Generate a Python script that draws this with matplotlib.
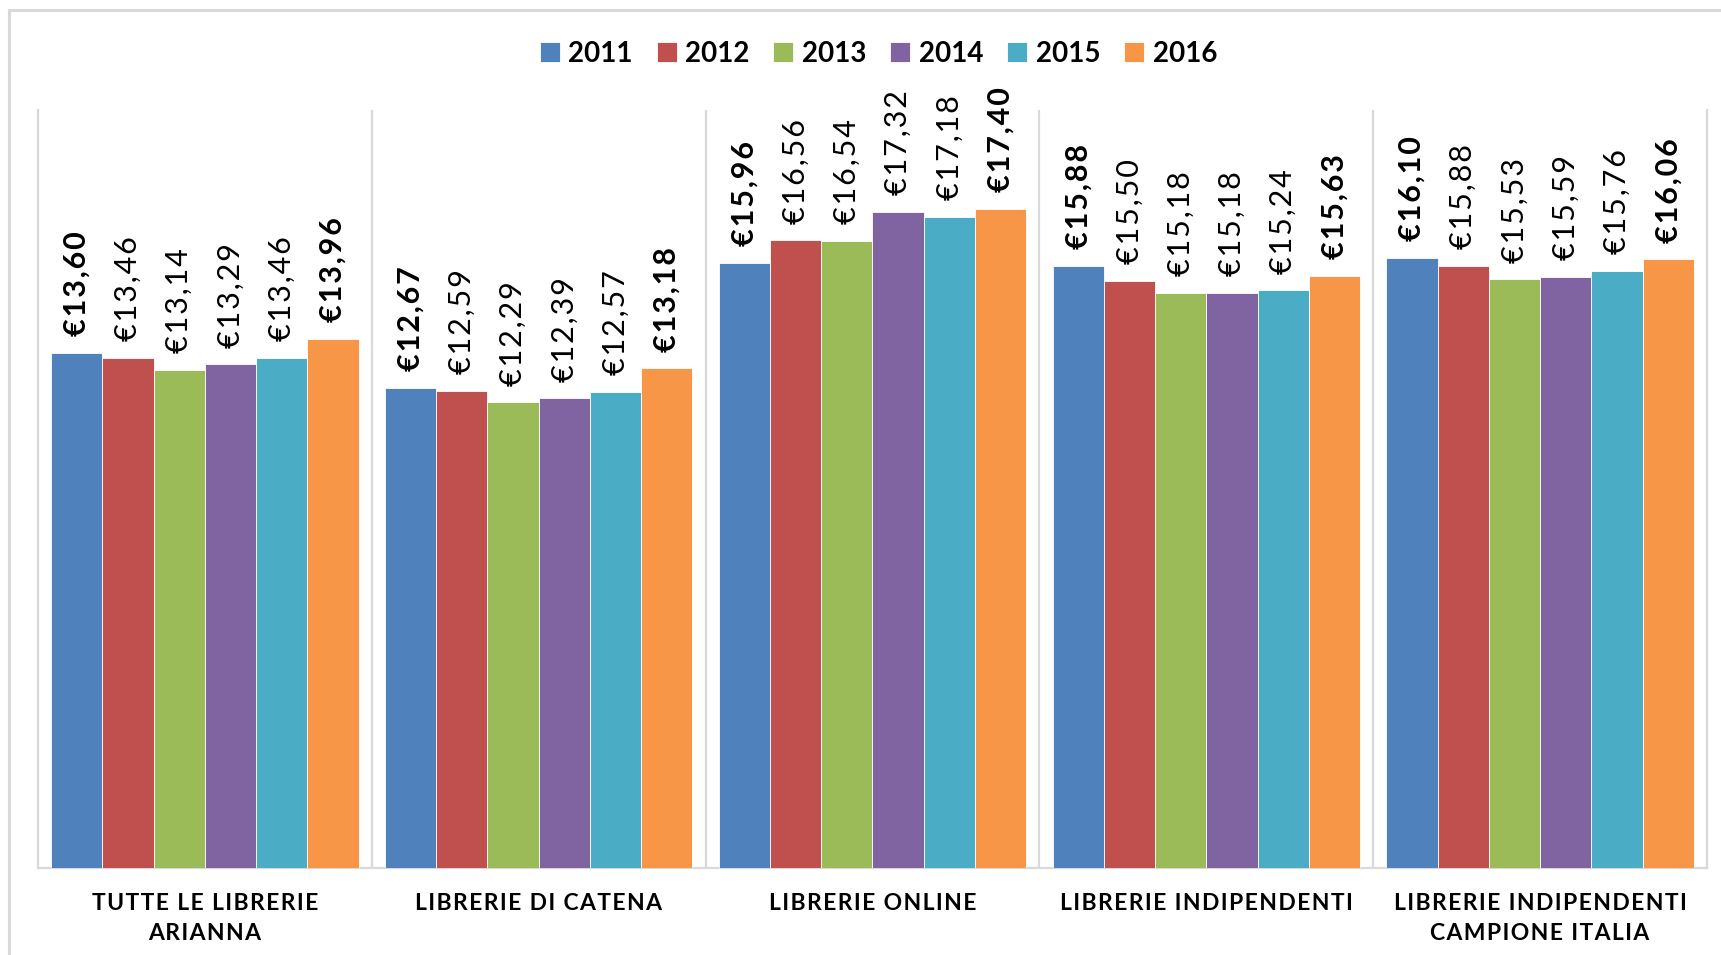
import numpy as np
import matplotlib
matplotlib.use("Agg")
import matplotlib.pyplot as plt
from matplotlib.patches import Rectangle

# Data
categories = ["TUTTE LE LIBRERIE\nARIANNA", "LIBRERIE DI CATENA", "LIBRERIE ONLINE",
              "LIBRERIE INDIPENDENTI", "LIBRERIE INDIPENDENTI\nCAMPIONE ITALIA"]
years = ["2011", "2012", "2013", "2014", "2015", "2016"]
v2011 = [13.60, 12.67, 15.96, 15.88, 16.10]
v2012 = [13.46, 12.59, 16.56, 15.50, 15.88]
v2013 = [13.14, 12.29, 16.54, 15.18, 15.53]
v2014 = [13.29, 12.39, 17.32, 15.18, 15.59]
v2015 = [13.46, 12.57, 17.18, 15.24, 15.76]
v2016 = [13.96, 13.18, 17.40, 15.63, 16.06]
series = [v2011, v2012, v2013, v2014, v2015, v2016]
bold_years = ["2011", "2016"]

colors = ["#4F81BD", "#C0504D", "#9BBB59", "#8064A2", "#4BACC6", "#F79646"]
FONT = ["Lato", "DejaVu Sans"]
W, H = 1721, 955

fig = plt.figure(figsize=(W / 100, H / 100), dpi=100)
fig.patch.set_facecolor("white")

# outer light border (only top/left visible in the original)
fig.patches.append(Rectangle((9 / W, -0.1), 1.2, 1.1 - 10 / H, transform=fig.transFigure,
                             fill=False, edgecolor="#D9D9D9", lw=2.2, zorder=0))

ax = fig.add_axes([38 / W, 1 - 868 / H, (1707 - 38) / W, (868 - 110) / H])


def spaced(s):
    # fake letter spacing with hair spaces
    return "\n".join("\u200a".join(line) for line in s.split("\n"))


x = np.arange(len(categories))
bw = 0.1535
for i, (yr, vals) in enumerate(zip(years, series)):
    pos = x + (i - 2.5) * bw
    bars = ax.bar(pos, vals, width=bw, color=colors[i], edgecolor="white", linewidth=0.6,
                  label=yr, zorder=3)
    weight = "bold" if yr in bold_years else "normal"
    for b, v in zip(bars, vals):
        lab = spaced("€" + f"{v:.2f}".replace(".", ","))
        ax.annotate(lab, (b.get_x() + b.get_width() / 2, v), xytext=(0, 12),
                    textcoords="offset points", rotation=90, ha="center", va="bottom",
                    fontsize=22, fontweight=weight, family=FONT, color="black")

ax.set_xlim(-0.5, len(categories) - 0.5)
ax.set_ylim(0, 20)
ax.set_yticks([])

# category separators
for s in np.arange(0.5, len(categories) - 0.5, 1):
    ax.axvline(s, color="#D9D9D9", lw=1.6, zorder=1)

ax.spines["top"].set_visible(False)
for side in ["left", "right", "bottom"]:
    ax.spines[side].set_color("#D9D9D9")
    ax.spines[side].set_linewidth(1.6)

ax.set_xticks(x)
ax.set_xticklabels([spaced(c) for c in categories], fontsize=16.5, fontweight="bold",
                   family=FONT, linespacing=1.5, va="top")
ax.tick_params(axis="x", length=0, pad=18)

leg = fig.legend(loc="center", bbox_to_anchor=(0.5105, 1 - 54 / H), ncol=6, frameon=False,
                 prop={"family": FONT, "weight": "bold", "size": 20},
                 handlelength=0.72, handleheight=0.72, handletextpad=0.32, columnspacing=0.85)

fig.savefig("out.png", dpi=100, facecolor="white")
